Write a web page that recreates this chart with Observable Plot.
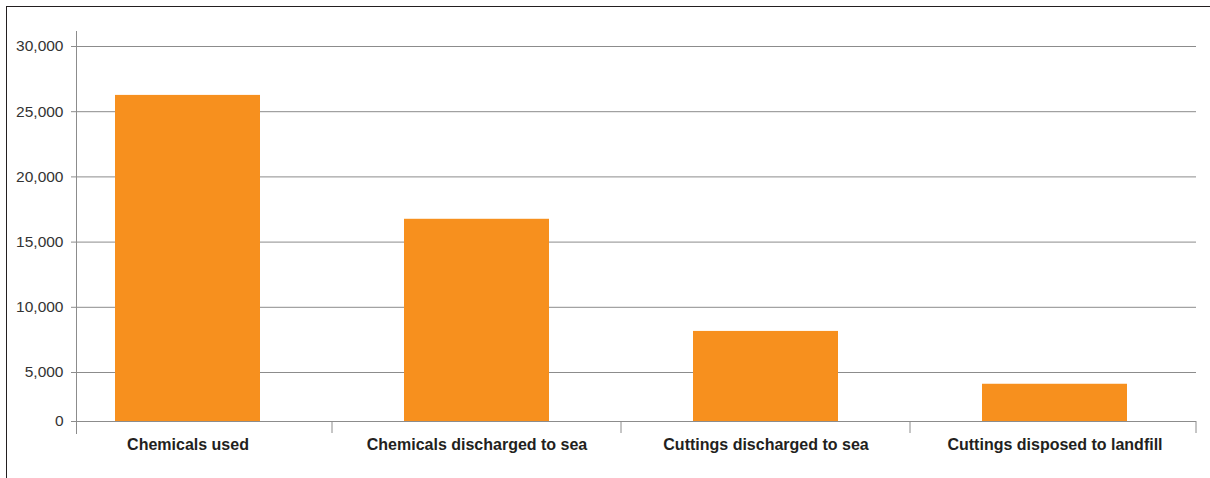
<!DOCTYPE html>
<html><head><meta charset="utf-8">
<script src="https://cdn.jsdelivr.net/npm/d3@7"></script>
<script src="https://cdn.jsdelivr.net/npm/@observablehq/plot@0.6"></script>
<style>
html,body{margin:0;padding:0;background:#fff;}
#wrap{position:relative;width:1210px;height:478px;overflow:hidden;}
#frame{position:absolute;left:6px;top:6px;right:0;bottom:-4px;border-top:1.5px solid #231f20;border-left:1.5px solid #231f20;}
#chart{position:absolute;left:0;top:0;}
</style></head><body>
<div id="wrap"><div id="frame"></div><div id="chart"></div></div>
<script>
const categories = ["Chemicals used", "Chemicals discharged to sea", "Cuttings discharged to sea", "Cuttings disposed to landfill"];
const values = [26250, 16750, 8150, 3800];
const yTicks = [0, 5000, 10000, 15000, 20000, 25000, 30000];

const data = categories.map((c, i) => ({category: c, value: values[i]}));
const gridColor = "#8c8c8c";
const textColor = "#231f20";

const chart = Plot.plot({
  width: 1210,
  height: 478,
  marginTop: 31,
  marginBottom: 45,
  marginLeft: 76,
  marginRight: 14,
  style: {fontFamily: "'Liberation Sans', Arial, sans-serif", background: "transparent"},
  x: {type: "band", domain: categories, paddingInner: 0.5, paddingOuter: 0.1875, align: 0.355, label: null},
  y: {type: "linear", domain: [0, 5000, 30000], range: [421, 372, 46], label: null},
  marks: [
    Plot.gridY(yTicks.slice(1), {stroke: gridColor, strokeOpacity: 1, strokeWidth: 1}),
    Plot.barY(data, {x: "category", y: "value", fill: "#f7901e"}),
    Plot.ruleY([0], {stroke: gridColor, strokeWidth: 1}),
    Plot.frame({anchor: "left", stroke: gridColor, strokeWidth: 1}),
    Plot.axisY(yTicks, {tickSize: 5, tickPadding: 8, tickFormat: d3.format(","), fontSize: 15.5, color: "#333", stroke: gridColor, label: null}),
    Plot.axisX({tickSize: 0, tickPadding: 5, fontSize: 16, fontWeight: "bold", color: textColor, label: null})
  ]
});
document.getElementById("chart").appendChild(chart);

// category separator ticks along the baseline, derived from the band scale
const xs = chart.scale("x");
const ys = chart.scale("y");
const svg = d3.select(chart);
const gap = (xs.step - xs.bandwidth) / 2;
const seps = categories.slice(1).map(c => xs.apply(c) - gap);
seps.push(xs.range[1]);
const y0 = ys.apply(0);
svg.append("g").attr("stroke", gridColor).attr("stroke-width", 1)
  .selectAll("line").data(seps).join("line")
  .attr("x1", d => d).attr("x2", d => d)
  .attr("y1", y0).attr("y2", 478 - 45);
</script>
</body></html>
